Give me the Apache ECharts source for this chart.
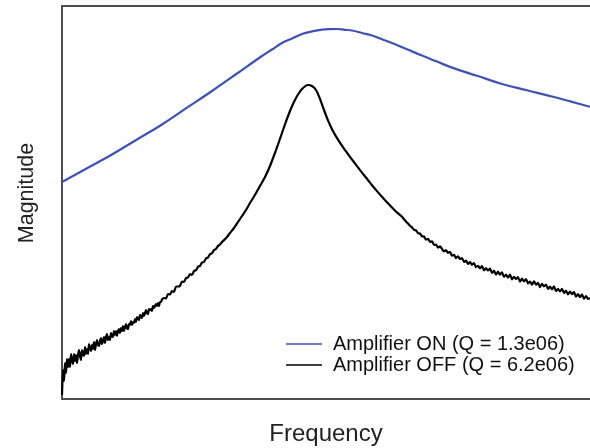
<!DOCTYPE html>
<html>
<head>
<meta charset="utf-8">
<script src="https://cdn.jsdelivr.net/npm/echarts@6/dist/echarts.min.js"></script>
<style>
html,body{margin:0;padding:0;background:#fff;}
#chart{width:590px;height:448px;}
</style>
</head>
<body>
<div id="chart"></div>
<script>
// Frequency (arbitrary units) and magnitude (arbitrary units)
var freqOn = [0,25,50,75,100,125,150,175,200,210,220,230,240,250,260,268,275,283,290,300,310,320,330,345,360,375,390,415,440,465,490,510,528];
var magOn  = [217,230.8,244.5,259.5,274.5,291.3,308,325.5,343,349.5,356,360.5,365,367.6,369.4,369.9,370,369.2,368.5,366,363.5,359.7,356,349.7,343.4,337.4,331.4,323.2,315,308.7,302.5,297.1,292.2];

var freqOff = [0,1,2,3,4,5,6,7,8,9,10,11,12,13,14,15,16,17,18,19,20,21,22,23,24,25,26,27,28,29,30,31,32,33,34,35,36,37,38,39,40,41,42,43,44,45,46,47,48,49,50,51,52,53,54,55,56,57,58,59,60,61,62,63,64,65,66,67,68,69,70,71,72,73,74,75,76,77,78,79,80,81,82,83,84,85,86,87,88,89,90,91,92,93,94,95,96,97,98,99,100,
  102,104,106,108,110,112,114,116,118,120,122,124,126,128,130,132,134,136,138,140,142,144,146,148,150,152,154,156,158,160,162,165,
  168,172,176,180,184,188,192,196,200,204,208,212,216,220,224,228,231,234,237,240,243,246,250,254,258,262,266,270,276,282,288,295,300,305,310,315,320,325,330,335,
  340,342,344,346,348,350,352,354,356,358,360,362,364,366,368,370,372,374,376,378,380,382,384,386,388,390,392,394,396,398,400,402,404,406,408,410,412,414,416,418,420,422,424,426,428,430,432,434,436,438,440,442,444,446,448,450,452,454,456,458,460,462,464,466,468,470,472,474,476,478,480,482,484,486,488,490,492,494,496,498,500,502,504,506,508,510,512,514,516,518,520,522,524,526,528];
var magOff  = [4,29,18,36,26,40,32,40,32,45,39,35,45,38,44,36,44,49,43,39,49,45,43,52,45,50,45,55,51,48,54,50,57,49,55,59,54,53,58,61,55,58,62,56,62,65,59,62,59,66,63,62,68,64,68,63,68,70,66,71,68,73,68,72,75,71,70,75,74,78,74,77,76,80,77,82,80,79,84,83,81,86,83,86,89,86,85,90,89,90,88,93,91,93,95,93,96,93,97,97,99.5,
  101,100.5,105,104.5,108,107,112.5,112.5,113,117.5,117,121,121.5,125,124,128,128.7,132.3,133,136.5,137,140.6,141.6,144.8,145.7,148.9,150.1,153,154.4,157.1,158.9,162,
  166,171,177,183,189,196,202.5,209.5,216.5,224,233,243.5,254.5,266,277.5,288,295,301,306,310,312.7,314,313,309,300.2,289,278.6,269.8,259.3,250.3,242.1,232.9,226.4,220.2,213.8,207.9,202.3,196.8,191.6,186.6,
  182.2,179.8,177.5,175.4,173.2,171.6,169.2,168.6,165.8,165.4,162.7,162.5,159.4,160.1,157.2,157.6,154.1,154.4,151.4,152.6,150.1,147.6,148.8,146.2,147.1,143.3,144.1,140.9,142.6,140,141,137.1,138.4,135.1,137,134.2,136,131.9,133.2,130.7,132.9,128.7,130.8,128.5,130.3,126.1,128.3,124.4,127.3,124.4,126.6,122.2,124.3,121.4,124.4,119.7,122.1,120,121.8,117.4,120.3,117.5,119.9,115.7,117.5,114.3,117.7,114.3,116.1,111.9,115.2,112.6,114.5,110.1,112.5,109.5,112.6,107.8,110.1,107.5,110.2,105.9,108.3,104.5,107.5,104.8,107,102.4,104.9,101.8,104.6,100.2,102.9,100.1,101.1];

var seriesNames = ['Amplifier ON (Q = 1.3e06)', 'Amplifier OFF (Q = 6.2e06)'];
var xName = 'Frequency';
var yName = 'Magnitude';

function pairs(xs, ys){ return xs.map(function(x,i){ return [x, ys[i]]; }); }

var chart = echarts.init(document.getElementById('chart'));
chart.setOption({
  backgroundColor: '#ffffff',
  animation: false,
  grid: { left: 62, right: 0, top: 6, bottom: 49, containLabel: false, outerBoundsMode: 'none' },
  legend: {
    orient: 'vertical',
    left: 281, top: 329,
    icon: 'rect',
    itemWidth: 36, itemHeight: 1.3, itemGap: 1,
    textStyle: { fontFamily: 'Liberation Sans, Arial, sans-serif', fontSize: 20, color: '#111', padding: [0,0,0,6] },
    data: seriesNames
  },
  xAxis: [{
    type: 'value', min: 0, max: 528, position: 'bottom',
    name: xName, nameLocation: 'middle', nameGap: 23,
    nameTextStyle: { fontFamily: 'Liberation Sans, Arial, sans-serif', fontSize: 24, color: '#222' },
    axisLine: { show: true, lineStyle: { color: '#4d4d4d', width: 2 } },
    axisTick: { show: false }, axisLabel: { show: false }, splitLine: { show: false }
  }, {
    type: 'value', min: 0, max: 528, position: 'top',
    axisLine: { show: true, lineStyle: { color: '#4d4d4d', width: 2 } },
    axisTick: { show: false }, axisLabel: { show: false }, splitLine: { show: false }
  }],
  yAxis: {
    type: 'value', min: 0, max: 393,
    name: yName, nameLocation: 'middle', nameGap: 24, nameRotate: 90,
    nameTextStyle: { fontFamily: 'Liberation Sans, Arial, sans-serif', fontSize: 21.5, color: '#222', padding: [0,0,0,19] },
    axisLine: { show: true, lineStyle: { color: '#4d4d4d', width: 2 } },
    axisTick: { show: false }, axisLabel: { show: false }, splitLine: { show: false }
  },
  series: [{
    name: seriesNames[0], type: 'line', symbol: 'none', smooth: 0.4,
    data: pairs(freqOn, magOn),
    lineStyle: { color: '#3f52b3', width: 2.2 }, itemStyle: { color: '#3f52b3' }
  }, {
    name: seriesNames[1], type: 'line', symbol: 'none', smooth: 0.2,
    data: pairs(freqOff, magOff),
    lineStyle: { color: '#000000', width: 2.2 }, itemStyle: { color: '#000000' }
  }]
});
</script>
</body>
</html>
